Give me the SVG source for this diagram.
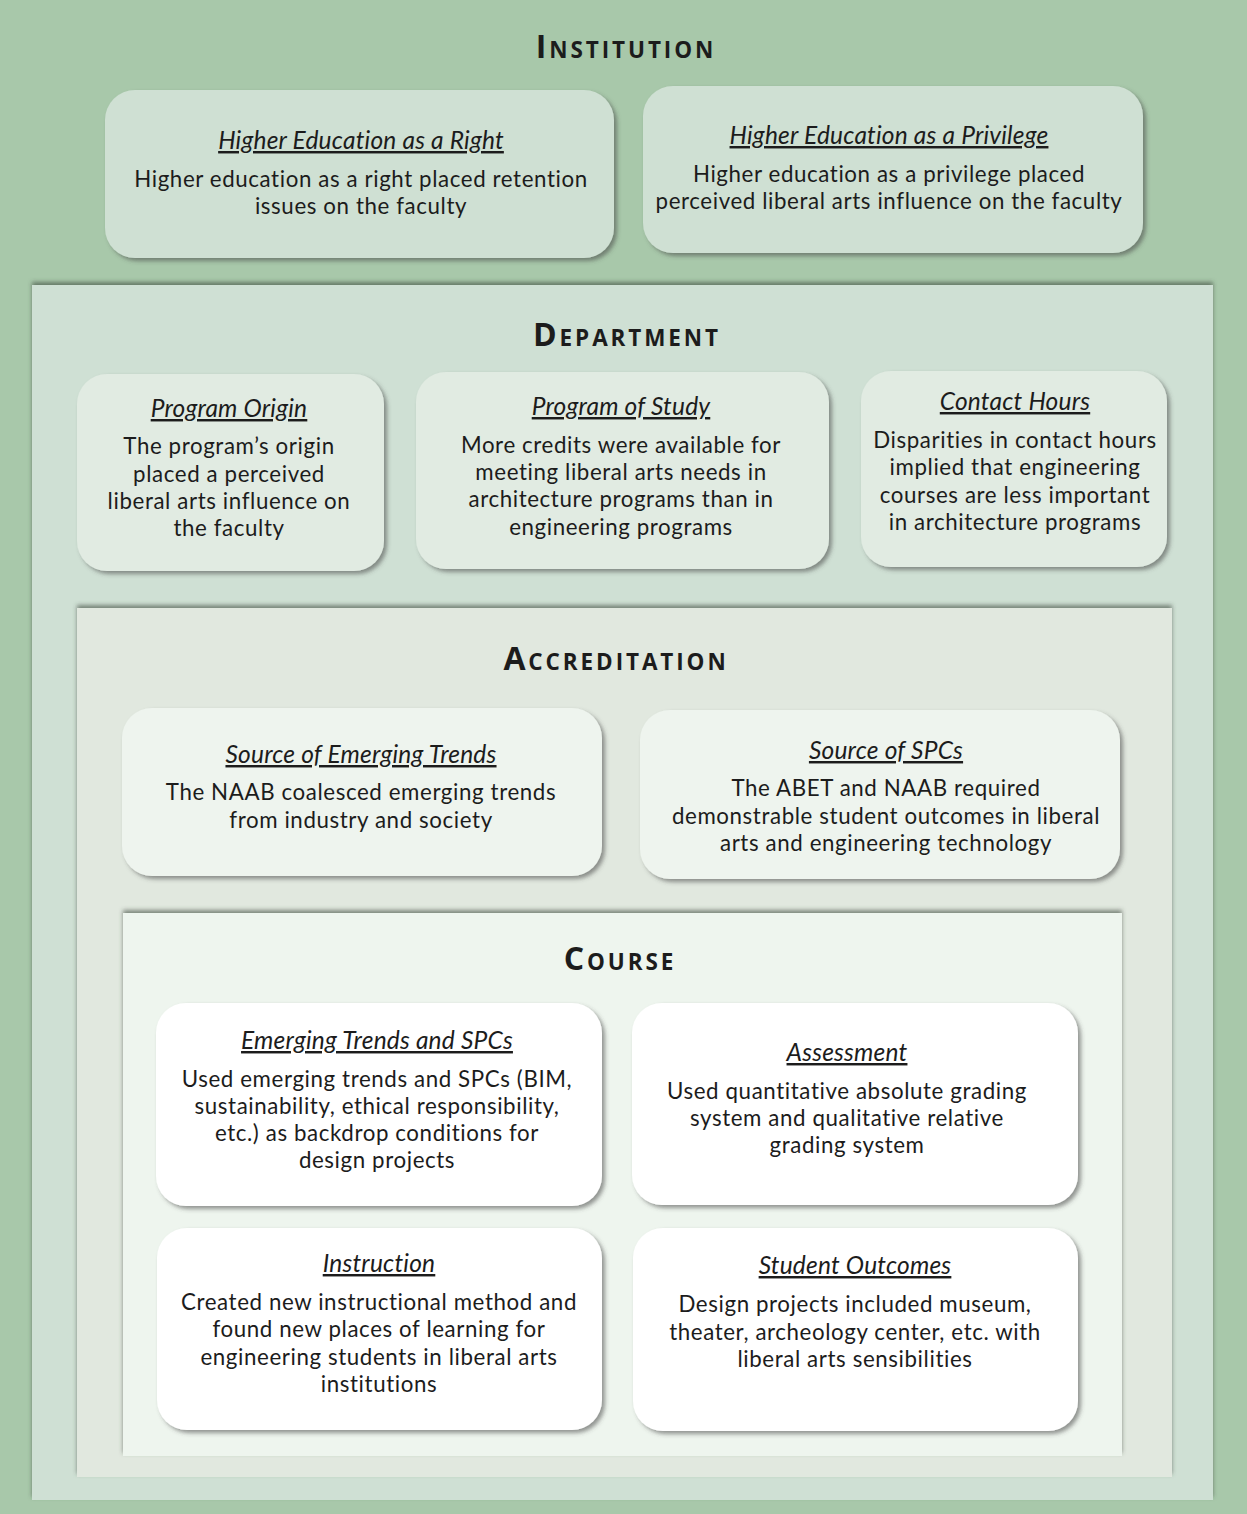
<svg xmlns="http://www.w3.org/2000/svg" width="1247" height="1514" viewBox="0 0 1247 1514">
<defs>
<filter id="panelShadow" x="-5%" y="-5%" width="110%" height="110%">
<feDropShadow dx="0" dy="-3" stdDeviation="2.2" flood-color="#3a4a3c" flood-opacity="0.6"/>
</filter>
<filter id="boxShadow" x="-5%" y="-5%" width="110%" height="115%">
<feDropShadow dx="3" dy="3" stdDeviation="2" flood-color="#444" flood-opacity="0.55"/>
</filter>
<style>
text{font-family:Lato,"Open Sans","Liberation Sans",sans-serif;fill:#1c1c1c;text-anchor:middle}
.t{font-size:24.5px;font-style:italic;text-decoration:underline;letter-spacing:0.2px}
.b{font-size:22.3px;letter-spacing:0.6px}
.h{font-family:"Open Sans","Noto Sans",sans-serif;font-weight:bold;font-size:22.5px;letter-spacing:2.9px}
.h .c{font-size:32px}
.ins{fill:#cfe0d3}
.dep{fill:#e1ebe2}
.acc{fill:#eef4ee}
.cou{fill:#ffffff}
.box{filter:url(#boxShadow)}
</style>
</defs>
<rect x="0" y="0" width="1247" height="1514" fill="#a8c8aa"/>
<g id="panels">
<rect id="panel-department" x="32" y="285" width="1181" height="1215" fill="#cfe0d4" filter="url(#panelShadow)"/>
<rect id="panel-accreditation" x="77" y="608" width="1095" height="869" fill="#e1e8df" filter="url(#panelShadow)"/>
<rect id="panel-course" x="123" y="913" width="999" height="543" fill="#eef5ee" filter="url(#panelShadow)"/>
</g>
<g id="headers">
<text class="h" x="626" y="58"><tspan class="c">I</tspan>NSTITUTION</text>
<text class="h" x="627" y="346"><tspan class="c">D</tspan>EPARTMENT</text>
<text class="h" x="616" y="670"><tspan class="c">A</tspan>CCREDITATION</text>
<text class="h" x="620" y="970"><tspan class="c">C</tspan>OURSE</text>
</g>
<g id="connectors"></g>
<g id="node-right">
<rect class="box ins" x="105" y="90" width="509" height="168" rx="30"/>
<text class="t" x="361" y="149">Higher Education as a Right</text>
<text class="b" x="361" y="187">Higher education as a right placed retention</text>
<text class="b" x="361" y="214">issues on the faculty</text>
</g>
<g id="node-privilege">
<rect class="box ins" x="643" y="86" width="500" height="167" rx="30"/>
<text class="t" x="889" y="144">Higher Education as a Privilege</text>
<text class="b" x="889" y="182">Higher education as a privilege placed</text>
<text class="b" x="889" y="209">perceived liberal arts influence on the faculty</text>
</g>
<g id="node-origin">
<rect class="box dep" x="77" y="374" width="307" height="197" rx="30"/>
<text class="t" x="229" y="417">Program Origin</text>
<text class="b" x="229" y="454">The program’s origin</text>
<text class="b" x="229" y="482">placed a perceived</text>
<text class="b" x="229" y="509">liberal arts influence on</text>
<text class="b" x="229" y="536">the faculty</text>
</g>
<g id="node-study">
<rect class="box dep" x="416" y="372" width="413" height="197" rx="30"/>
<text class="t" x="621" y="415">Program of Study</text>
<text class="b" x="621" y="453">More credits were available for</text>
<text class="b" x="621" y="480">meeting liberal arts needs in</text>
<text class="b" x="621" y="507">architecture programs than in</text>
<text class="b" x="621" y="535">engineering programs</text>
</g>
<g id="node-contact">
<rect class="box dep" x="861" y="371" width="306" height="196" rx="30"/>
<text class="t" x="1015" y="410">Contact Hours</text>
<text class="b" x="1015" y="448">Disparities in contact hours</text>
<text class="b" x="1015" y="475">implied that engineering</text>
<text class="b" x="1015" y="503">courses are less important</text>
<text class="b" x="1015" y="530">in architecture programs</text>
</g>
<g id="node-trends-source">
<rect class="box acc" x="122" y="708" width="480" height="168" rx="30"/>
<text class="t" x="361" y="763">Source of Emerging Trends</text>
<text class="b" x="361" y="800">The NAAB coalesced emerging trends</text>
<text class="b" x="361" y="828">from industry and society</text>
</g>
<g id="node-spcs-source">
<rect class="box acc" x="640" y="710" width="480" height="169" rx="30"/>
<text class="t" x="886" y="759">Source of SPCs</text>
<text class="b" x="886" y="796">The ABET and NAAB required</text>
<text class="b" x="886" y="824">demonstrable student outcomes in liberal</text>
<text class="b" x="886" y="851">arts and engineering technology</text>
</g>
<g id="node-trends-spcs">
<rect class="box cou" x="156" y="1003" width="446" height="203" rx="30"/>
<text class="t" x="377" y="1049">Emerging Trends and SPCs</text>
<text class="b" x="377" y="1087">Used emerging trends and SPCs (BIM,</text>
<text class="b" x="377" y="1114">sustainability, ethical responsibility,</text>
<text class="b" x="377" y="1141">etc.) as backdrop conditions for</text>
<text class="b" x="377" y="1168">design projects</text>
</g>
<g id="node-assessment">
<rect class="box cou" x="632" y="1003" width="446" height="202" rx="30"/>
<text class="t" x="847" y="1061">Assessment</text>
<text class="b" x="847" y="1099">Used quantitative absolute grading</text>
<text class="b" x="847" y="1126">system and qualitative relative</text>
<text class="b" x="847" y="1153">grading system</text>
</g>
<g id="node-instruction">
<rect class="box cou" x="157" y="1228" width="445" height="202" rx="30"/>
<text class="t" x="379" y="1272">Instruction</text>
<text class="b" x="379" y="1310">Created new instructional method and</text>
<text class="b" x="379" y="1337">found new places of learning for</text>
<text class="b" x="379" y="1365">engineering students in liberal arts</text>
<text class="b" x="379" y="1392">institutions</text>
</g>
<g id="node-outcomes">
<rect class="box cou" x="633" y="1228" width="445" height="203" rx="30"/>
<text class="t" x="855" y="1274">Student Outcomes</text>
<text class="b" x="855" y="1312">Design projects included museum,</text>
<text class="b" x="855" y="1340">theater, archeology center, etc. with</text>
<text class="b" x="855" y="1367">liberal arts sensibilities</text>
</g>
</svg>
